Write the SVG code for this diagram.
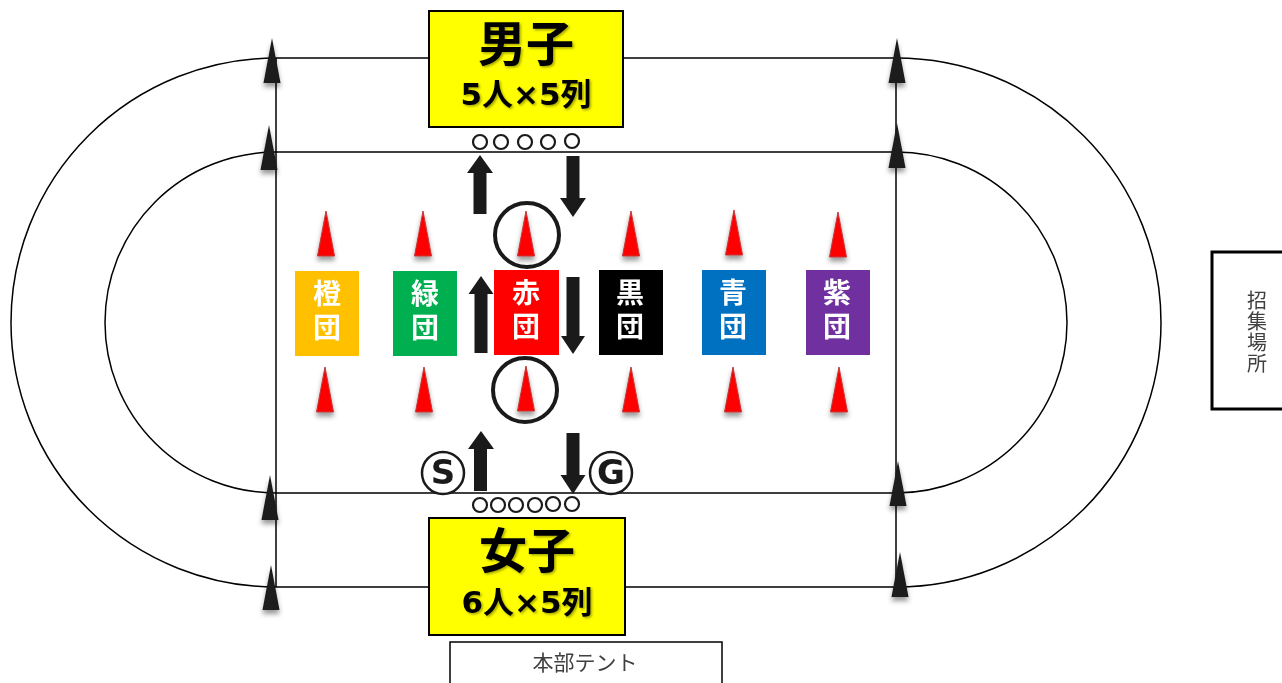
<svg xmlns="http://www.w3.org/2000/svg" width="1282" height="683" viewBox="0 0 1282 683">
<style>
.track{fill:none;stroke:#000;stroke-width:1.5}
.blk{fill:#1a1a1a;filter:url(#sh)}
.red{fill:#f00;stroke:#c0393b;stroke-width:1;filter:url(#sh)}
.arr{fill:#1a1a1a}
.o{fill:#fff;stroke:#1a1a1a;stroke-width:2.2}
.ring{fill:none;stroke:#1a1a1a;stroke-width:4}
.yb{fill:#ff0;stroke:#000;stroke-width:2}
.cjk{font-family:"Noto Sans CJK JP","Noto Sans CJK SC",sans-serif}
.mix{font-family:"DejaVu Sans","Noto Sans CJK JP",sans-serif}
.big{font-size:48px;font-weight:700;text-anchor:middle;fill:#000;filter:url(#ts)}
.sub{font-size:31px;font-weight:700;text-anchor:middle;fill:#000;filter:url(#ts)}
.team{font-size:28px;font-weight:700;fill:#fff;writing-mode:vertical-rl;letter-spacing:6px}
.lab{font-size:21px;text-anchor:middle;fill:#404040}
.side{font-size:20px;fill:#404040;writing-mode:vertical-rl;letter-spacing:1.300px}
.sg{font-family:"DejaVu Sans",sans-serif;font-size:34px;font-weight:700;text-anchor:middle;fill:#1a1a1a}
</style>
<defs>
<filter id="sh" x="-60%" y="-20%" width="220%" height="150%"><feDropShadow dx="0" dy="4" stdDeviation="2.5" flood-color="#000" flood-opacity=".4"/></filter>
<filter id="ts" x="-10%" y="-10%" width="120%" height="120%"><feDropShadow dx="1.5" dy="1.5" stdDeviation="1" flood-color="#000" flood-opacity=".35"/></filter>
<polygon id="bc" points="0,0 8.500,45 -8.500,45"/>
<polygon id="rc" points="0,0 8.500,45 -8.500,45"/>
</defs>
<g id="connectors">
<path class="track" d="M276 58A265 264.500 0 0 0 276 587H896A265 264.500 0 0 0 896 58Z"/>
<path class="track" d="M276 152A171 170.500 0 0 0 276 493H896A171 170.500 0 0 0 896 152Z"/>
<path class="track" d="M276 58V587M896 58V587"/>
<g class="arr">
<polygon points="480,155 493,173 486.500,173 486.500,214 473.500,214 473.500,173 467,173"/>
<polygon points="573,217 560,198 566.500,198 566.500,156 579.500,156 579.500,198 586,198"/>
<polygon points="481,276 493.500,294 487.500,294 487.500,353 474.500,353 474.500,294 468.500,294"/>
<polygon points="573,354 561,336 566.500,336 566.500,277 579.500,277 579.500,336 585,336"/>
<polygon points="481,431 494,449 487,449 487,491 474,491 474,449 468,449"/>
<polygon points="573,494 560.500,475 566.500,475 566.500,433 579.500,433 579.500,475 585.500,475"/>
</g>
</g>
<g id="cones-black" class="blk">
<use href="#bc" x="272" y="38"/><use href="#bc" x="269" y="125"/><use href="#bc" x="270" y="475"/><use href="#bc" x="271" y="565"/>
<use href="#bc" x="897" y="38"/><use href="#bc" x="897" y="123"/><use href="#bc" x="898" y="461"/><use href="#bc" x="900" y="552"/>
</g>
<g id="cones-red" class="red">
<use href="#rc" x="326" y="211"/><use href="#rc" x="423" y="211"/><use href="#rc" x="526" y="211"/><use href="#rc" x="631" y="211"/><use href="#rc" x="734" y="210"/><use href="#rc" x="838" y="212"/>
<use href="#rc" x="325" y="367"/><use href="#rc" x="424" y="367"/><use href="#rc" x="526" y="366"/><use href="#rc" x="631" y="367"/><use href="#rc" x="733" y="367"/><use href="#rc" x="839" y="367"/>
</g>
<g id="rings"><circle class="ring" cx="527" cy="235" r="32"/><circle class="ring" cx="525" cy="390" r="32"/></g>
<g id="men">
<rect class="yb" x="429" y="11" width="194" height="116"/>
<text class="cjk big" x="526" y="61">男子</text>
<text class="mix sub" x="526" y="105">5人×5列</text>
</g>
<g id="men-dots">
<circle class="o" cx="480" cy="142" r="7"/><circle class="o" cx="501" cy="142" r="7"/><circle class="o" cx="525" cy="142" r="7"/><circle class="o" cx="548" cy="142" r="7"/><circle class="o" cx="572" cy="141" r="7"/>
</g>
<g id="women">
<rect class="yb" x="429" y="518" width="196" height="117"/>
<text class="cjk big" x="527" y="568">女子</text>
<text class="mix sub" x="527" y="613">6人×5列</text>
</g>
<g id="women-dots">
<circle class="o" cx="480" cy="505" r="7"/><circle class="o" cx="498" cy="505" r="7"/><circle class="o" cx="516" cy="505" r="7"/><circle class="o" cx="535" cy="505" r="7"/><circle class="o" cx="553" cy="504" r="7"/><circle class="o" cx="572" cy="504" r="7"/>
</g>
<g id="team-orange"><rect x="295" y="271" width="64" height="85" fill="#ffc000"/><text class="cjk team" x="327" y="279">橙団</text></g>
<g id="team-green"><rect x="393" y="271" width="64" height="85" fill="#00b050"/><text class="cjk team" x="425" y="279">緑団</text></g>
<g id="team-red"><rect x="494" y="270" width="65" height="85" fill="#f00"/><text class="cjk team" x="526" y="278">赤団</text></g>
<g id="team-black"><rect x="599" y="270" width="64" height="85" fill="#000"/><text class="cjk team" x="630" y="278">黒団</text></g>
<g id="team-blue"><rect x="702" y="270" width="64" height="85" fill="#0070c0"/><text class="cjk team" x="733" y="278">青団</text></g>
<g id="team-purple"><rect x="806" y="270" width="64" height="85" fill="#7030a0"/><text class="cjk team" x="837" y="278">紫団</text></g>
<g id="start"><circle cx="443" cy="473" r="21" fill="#fff" stroke="#1a1a1a" stroke-width="2.500"/><text class="sg" x="443" y="484">S</text></g>
<g id="goal"><circle cx="611" cy="473" r="21" fill="#fff" stroke="#1a1a1a" stroke-width="2.500"/><text class="sg" x="611" y="484">G</text></g>
<g id="tent"><rect x="450" y="642" width="272" height="50" fill="#fff" stroke="#000" stroke-width="1.500"/><text class="cjk lab" x="585" y="670">本部テント</text></g>
<g id="call"><rect x="1212" y="252" width="80" height="157" fill="#fff" stroke="#000" stroke-width="3"/>
<text class="cjk side" x="1257" y="290">招集場所</text></g>
</svg>
